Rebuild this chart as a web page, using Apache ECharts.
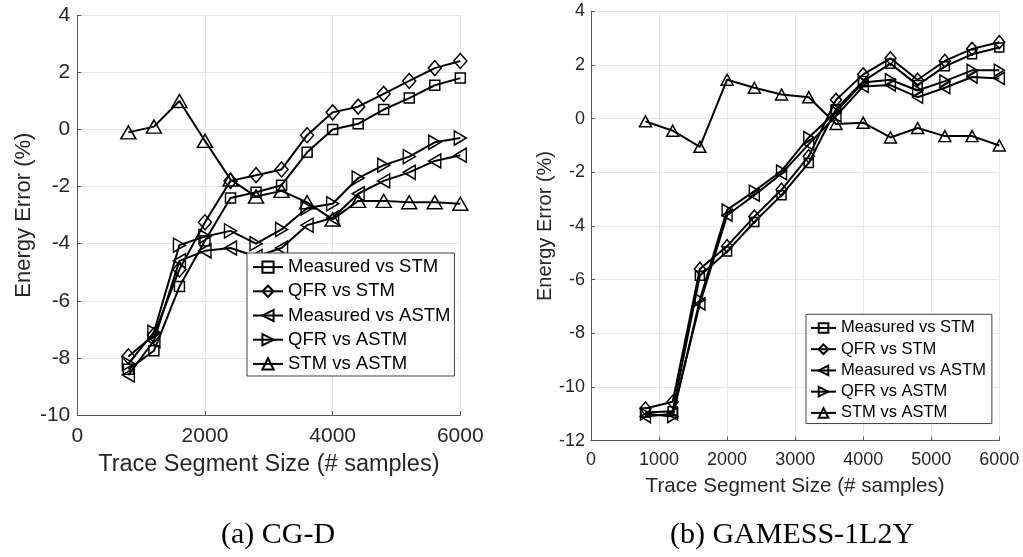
<!DOCTYPE html>
<html>
<head>
<meta charset="utf-8">
<script src="https://cdn.jsdelivr.net/npm/echarts@6/dist/echarts.min.js"></script>
<style>
html,body{margin:0;padding:0;background:#fff;}
#c{width:1023px;height:557px;}
</style>
</head>
<body>
<div id="c"></div>
<script>
// ---------- data ----------
const xValues = [800, 1200, 1600, 2000, 2400, 2800, 3200, 3600, 4000, 4400, 4800, 5200, 5600, 6000];
const seriesNames = ['Measured vs STM', 'QFR vs STM', 'Measured vs ASTM', 'QFR vs ASTM', 'STM vs ASTM'];

// (a) CG-D
const cgMeasuredVsSTM  = [-8.4, -7.75, -5.5, -3.9, -2.4, -2.2, -1.95, -0.8, 0.0, 0.2, 0.7, 1.1, 1.55, 1.8];
const cgQFRVsSTM       = [-7.95, -7.2, -4.9, -3.25, -1.8, -1.6, -1.4, -0.2, 0.6, 0.8, 1.25, 1.7, 2.15, 2.4];
const cgMeasuredVsASTM = [-8.6, -7.4, -4.6, -4.25, -4.15, -4.45, -4.15, -3.35, -3.1, -2.25, -1.8, -1.5, -1.1, -0.9];
const cgQFRVsASTM      = [-8.2, -7.1, -4.05, -3.75, -3.55, -4.0, -3.5, -2.75, -2.6, -1.7, -1.25, -0.95, -0.45, -0.3];
const cgSTMVsASTM      = [-0.1, 0.1, 1.0, -0.4, -1.75, -2.35, -2.15, -2.55, -3.15, -2.5, -2.5, -2.55, -2.55, -2.6];

// (b) GAMESS-1L2Y
const gmMeasuredVsSTM  = [-10.95, -10.9, -5.85, -4.95, -3.85, -2.85, -1.65, 0.35, 1.4, 2.05, 1.25, 1.95, 2.4, 2.65];
const gmQFRVsSTM       = [-10.8, -10.55, -5.6, -4.75, -3.65, -2.65, -1.4, 0.7, 1.65, 2.25, 1.45, 2.15, 2.6, 2.85];
const gmMeasuredVsASTM = [-11.1, -11.0, -6.9, -3.6, -2.85, -2.05, -0.95, 0.1, 1.2, 1.25, 0.8, 1.15, 1.55, 1.5];
const gmQFRVsASTM      = [-11.0, -11.1, -6.75, -3.4, -2.7, -1.95, -0.7, 0.25, 1.35, 1.45, 1.05, 1.4, 1.8, 1.8];
const gmSTMVsASTM      = [-0.1, -0.45, -1.05, 1.45, 1.15, 0.9, 0.8, -0.2, -0.15, -0.7, -0.35, -0.65, -0.65, -1.0];

// ticks
const xTicksA = [0, 2000, 4000, 6000];
const yTicksA = [-10, -8, -6, -4, -2, 0, 2, 4];
const xTicksB = [0, 1000, 2000, 3000, 4000, 5000, 6000];
const yTicksB = [-12, -10, -8, -6, -4, -2, 0, 2, 4];

const xTitle = 'Trace Segment Size (# samples)';
const yTitle = 'Energy Error (%)';
const captions = ['(a) CG-D', '(b) GAMESS-1L2Y'];

// ---------- chart ----------
const FONT = '"Liberation Sans", Arial, Helvetica, sans-serif';
const SYMS = ['rect', 'diamond', 'path://M10,0L0,6L10,12Z', 'path://M0,0L10,6L0,12Z', 'triangle'];
const SIZES_A = [10, [13, 15], [12, 14], [12, 14], [15, 13]];
const SIZES_B = [9, [11, 13], [10, 12], [10, 12], [12, 11]];
const dataA = [cgMeasuredVsSTM, cgQFRVsSTM, cgMeasuredVsASTM, cgQFRVsASTM, cgSTMVsASTM];
const dataB = [gmMeasuredVsSTM, gmQFRVsSTM, gmMeasuredVsASTM, gmQFRVsASTM, gmSTMVsASTM];

function mk(name, vals, idx, symbol, size) {
  return {
    type: 'line', name: name, xAxisIndex: idx, yAxisIndex: idx,
    data: xValues.map((x, i) => [x, vals[i]]),
    symbol: symbol, symbolSize: size, showAllSymbol: true,
    lineStyle: { color: '#000', width: 2 },
    itemStyle: { color: 'rgba(255,255,255,0)', borderColor: '#000', borderWidth: 1.5 },
    emphasis: { disabled: true }, z: 2
  };
}

const plain = v => String(v);

function xAxis(idx, ticks, fs, nameFs, gap, margin) {
  return {
    type: 'value', gridIndex: idx, min: ticks[0], max: ticks[ticks.length - 1],
    interval: ticks[1] - ticks[0],
    name: xTitle, nameLocation: 'middle', nameGap: gap,
    nameTextStyle: { fontSize: nameFs, fontFamily: FONT, color: '#262626' },
    axisLine: { show: true, onZero: false, lineStyle: { color: '#555', width: 1 } },
    axisTick: { show: true, inside: true, length: 4, lineStyle: { color: '#555' } },
    axisLabel: { fontSize: fs, fontFamily: FONT, color: '#262626', margin: margin, formatter: plain },
    splitLine: { show: true, lineStyle: { color: '#e6e6e6', width: 1 } }
  };
}
function yAxis(idx, ticks, fs, nameFs, gap, margin) {
  return {
    type: 'value', gridIndex: idx, min: ticks[0], max: ticks[ticks.length - 1],
    interval: ticks[1] - ticks[0],
    name: yTitle, nameLocation: 'middle', nameGap: gap,
    nameTextStyle: { fontSize: nameFs, fontFamily: FONT, color: '#262626' },
    axisLine: { show: true, onZero: false, lineStyle: { color: '#555', width: 1 } },
    axisTick: { show: true, inside: true, length: 4, lineStyle: { color: '#555' } },
    axisLabel: { fontSize: fs, fontFamily: FONT, color: '#262626', margin: margin, formatter: plain },
    splitLine: { show: true, lineStyle: { color: '#e6e6e6', width: 1 } }
  };
}

const series = [];
seriesNames.forEach((n, i) => series.push(mk(n, dataA[i], 0, SYMS[i], SIZES_A[i])));
seriesNames.forEach((n, i) => series.push(mk(n, dataB[i], 1, SYMS[i], SIZES_B[i])));

const chart = echarts.init(document.getElementById('c'), null, { renderer: 'canvas' });
chart.setOption({
  animation: false,
  backgroundColor: '#fff',
  grid: [
    { left: 77.3, right: 1023 - 460.3, top: 15.3, bottom: 557 - 415, containLabel: false },
    { left: 591, right: 1023 - 999.3, top: 11.3, bottom: 557 - 440.7, containLabel: false }
  ],
  xAxis: [xAxis(0, xTicksA, 21, 23.5, 38, 11), xAxis(1, xTicksB, 18, 20.6, 35, 10)],
  yAxis: [yAxis(0, yTicksA, 21, 22, 42, 7), yAxis(1, yTicksB, 18, 20, 36, 6)],
  legend: [
    {
      orient: 'vertical', left: 247, top: 253, data: seriesNames,
      itemWidth: 30, itemHeight: 14, itemGap: 0, padding: [2, 4, 0, 5],
      backgroundColor: '#fff', borderColor: '#404040', borderWidth: 1, borderRadius: 0,
      textStyle: { fontSize: 18.5, fontFamily: FONT, color: '#000', lineHeight: 24.2 },
      selectedMode: false, z: 10
    },
    {
      orient: 'vertical', left: 806, top: 314.3, data: seriesNames,
      itemWidth: 25, itemHeight: 12, itemGap: 0, padding: [3, 6, 0, 4],
      backgroundColor: '#fff', borderColor: '#404040', borderWidth: 1, borderRadius: 0,
      textStyle: { fontSize: 16.5, fontFamily: FONT, color: '#000', lineHeight: 21.25 },
      selectedMode: false, z: 10
    }
  ],
  graphic: [
    { type: 'text', x: 278, y: 535, style: { text: captions[0], fontSize: 30, fontFamily: '"Liberation Serif", "Times New Roman", serif', fill: '#000', align: 'center', verticalAlign: 'middle' } },
    { type: 'text', x: 792, y: 535, style: { text: captions[1], fontSize: 30, fontFamily: '"Liberation Serif", "Times New Roman", serif', fill: '#000', align: 'center', verticalAlign: 'middle' } }
  ],
  series: series
});
</script>
</body>
</html>
